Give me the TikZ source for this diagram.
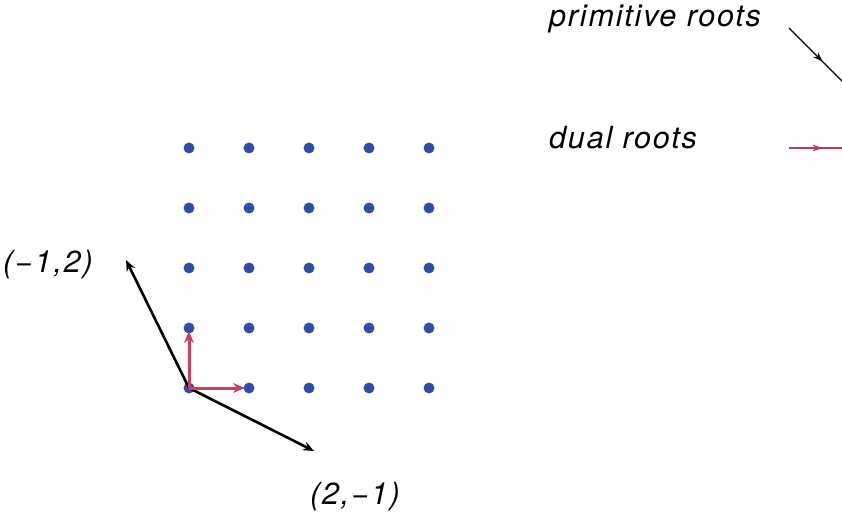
\documentclass[tikz,border=0pt]{standalone}
\usepackage{fontspec}
\setmainfont{TeX Gyre Heros}
\newfontfamily\lblfont[LetterSpace=6]{TeX Gyre Heros}
\usetikzlibrary{arrows.meta,decorations.markings}
\definecolor{dotblue}{RGB}{48,78,168}
\definecolor{dualred}{RGB}{204,62,100}
\definecolor{legred}{RGB}{176,64,92}
\tikzset{
  latdot/.style={circle,fill=dotblue,inner sep=0pt,minimum size=11pt},
  primarrow/.style={draw=black,line width=2.6pt,-{Stealth[length=11pt,width=9pt]}},
  dualarrow/.style={draw=dualred,line width=3pt,-{Stealth[length=12pt,width=10pt]}},
  lbl/.style={font=\lblfont\fontsize{30.5}{33}\selectfont\itshape,inner sep=0pt},
  midtip/.style={postaction={decorate},decoration={markings,mark=at position #1 with {\arrow{Stealth[length=10pt,width=7pt]}}}}
}
\begin{document}
\begin{tikzpicture}[x=1pt,y=-1pt]
\useasboundingbox (0,0) rectangle (842,518);
\clip (0,0) rectangle (842,518);
% lattice
\foreach \i in {0,...,4}{
  \foreach \j in {0,...,4}{
    \node[latdot] (d\i\j) at (189+60*\i,388-60*\j) {};
  }
}
\coordinate (tipA) at (126,260);
\coordinate (tipB) at (314,451);
\coordinate (tipU) at (189,331);
\coordinate (tipR) at (245,388);
\draw[primarrow] (d00.center) -- (tipA);
\draw[primarrow] (d00.center) -- (tipB);
\draw[dualarrow] (d00.center) -- (tipU);
\draw[dualarrow] (d00.center) -- (tipR);
% labels
\node[lbl,anchor=east] (lA) at (93,265) {(−1,2)};
\node[lbl,anchor=west] (lB) at (310,497) {(2,−1)};
\node[lbl,anchor=west] (lP) at (549,19) {primitive roots};
\node[lbl,anchor=west] (lD) at (549,138) {dual roots};
% legend
\coordinate (pS) at (789,28);
\coordinate (pE) at (850,89);
\coordinate (dS) at (789,148);
\coordinate (dE) at (850,148);
\draw[black,line width=1.2pt,midtip=0.55] (pS) -- (pE);
\draw[legred,line width=1.2pt,midtip=0.55] (dS) -- (dE);
\end{tikzpicture}
\end{document}
